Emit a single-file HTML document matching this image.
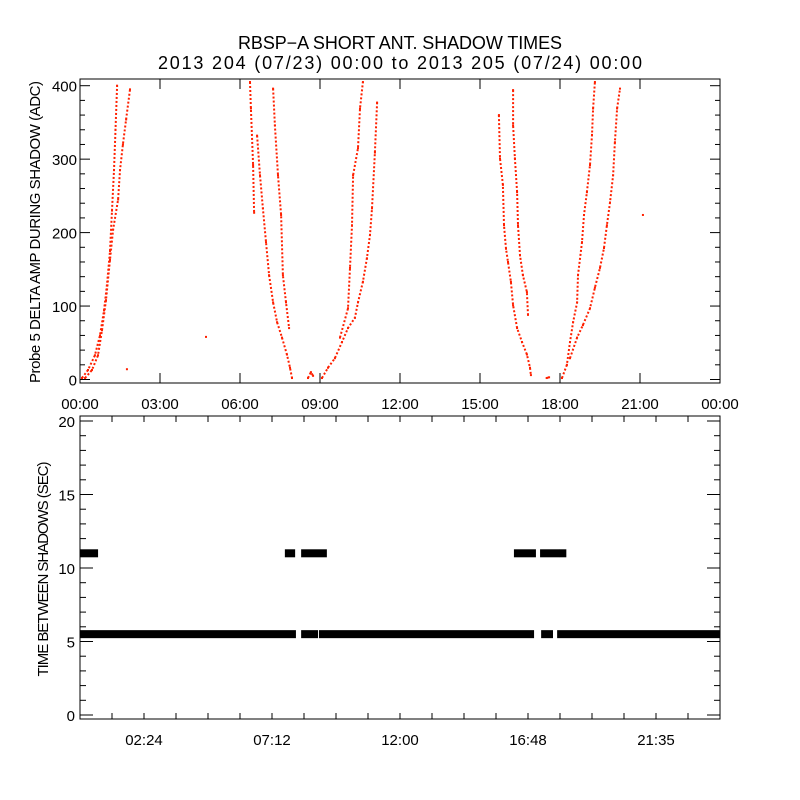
<!DOCTYPE html>
<html><head><meta charset="utf-8">
<style>
html,body{margin:0;padding:0;background:#fff;}
svg{display:block;font-family:"Liberation Sans",sans-serif;}
text{fill:#000;}
</style></head>
<body>
<svg id="chart" width="800" height="800" viewBox="0 0 800 800" xmlns="http://www.w3.org/2000/svg">
<rect x="0" y="0" width="800" height="800" fill="#fff"/>
<text x="400" y="49" font-size="18" text-anchor="middle" textLength="324" lengthAdjust="spacing">RBSP−A SHORT ANT. SHADOW TIMES</text>
<text x="400" y="69" font-size="18" text-anchor="middle" textLength="484" lengthAdjust="spacing">2013 204 (07/23) 00:00 to 2013 205 (07/24) 00:00</text>
<g id="topPanel"></g>
<g id="botPanel"></g>
</svg>
<script>
// ---- Top panel data: hours, ADC values per trace ----
const traceAHours=[0.075,0.3,0.56,0.75,0.9,1.01,1.125,1.2,1.275,1.33,1.39];
const traceAVals=[2,13,33,60,94,128,175,230,285,340,400];
const traceBHours=[0.19,0.45,0.675,0.825,0.975,1.125,1.24,1.43,1.5,1.61,1.73,1.875];
const traceBVals=[2,13,33,67,108,163,204,245,285,320,354,395];
const traceCHours=[6.375,6.41,6.49,6.53];
const traceCVals=[405,369,292,227];
const traceDHours=[6.64,6.75,6.86,6.975,7.09,7.24,7.39,7.575,7.76,7.875,7.95];
const traceDVals=[332,278,233,187,142,105,78,57,34,16,2];
const traceEHours=[7.24,7.31,7.425,7.54,7.61,7.725,7.84];
const traceEVals=[396,346,278,224,142,105,70];
const traceS1Hours=[8.55,8.66,8.74];
const traceS1Vals=[2,10,5];
const traceFHours=[9.075,9.3,9.56,9.825,10.05,10.31,10.425,10.61,10.76,10.875,10.95,11.06,11.14];
const traceFVals=[2,16,29,51,70,84,105,133,165,197,233,309,377];
const traceGHours=[9.75,10.05,10.125,10.2,10.24,10.425,10.5,10.61];
const traceGVals=[57,97,152,210,278,315,369,405];
const traceHHours=[15.71,15.75,15.86,15.9,15.975,16.05,16.16,16.24,16.39,16.575,16.76,16.875,16.91];
const traceHVals=[360,301,265,210,178,160,133,101,70,51,34,16,6];
const traceIHours=[16.24,16.24,16.31,16.39,16.425,16.5,16.61,16.76,16.8];
const traceIVals=[394,346,301,255,210,169,142,119,88];
const traceS2Hours=[17.5,17.59];
const traceS2Vals=[2,3];
const traceJHours=[18.075,18.26,18.375,18.49,18.64,18.675,18.825,18.9,19.01,19.125,19.2,19.24,19.31];
const traceJVals=[2,20,51,78,105,142,187,224,255,292,333,369,405];
const traceKHours=[18.375,18.64,18.86,19.125,19.31,19.5,19.65,19.76,19.875,19.99,20.06,20.14,20.25];
const traceKVals=[29,57,74,97,125,152,179,210,241,278,323,369,396];
const outlierHours=[21.11,4.725,1.76];
const outlierVals=[224,58,14];
const topXTickLabels=["00:00","03:00","06:00","09:00","12:00","15:00","18:00","21:00","00:00"];
const topYTickLabels=["0","100","200","300","400"];
// ---- Bottom panel data ----
const band55Start=[0,8.33,9.0,17.33,17.93];
const band55End=[8.06,8.89,16.99,17.7,24];
const band55Value=[5.5,5.5,5.5,5.5,5.5];
const band11Start=[0,7.72,8.33,16.31,17.29,18.0];
const band11End=[0.64,8.03,9.22,17.06,17.93,18.2];
const band11Value=[11,11,11,11,11,11];
const botXTickLabels=["02:24","07:12","12:00","16:48","21:35"];
const botXTickHours=[2.4,7.2,12,16.8,21.6];
const botYTickLabels=["0","5","10","15","20"];

const NS="http://www.w3.org/2000/svg";
function mk(tag,attrs,parent){const e=document.createElementNS(NS,tag);for(const k in attrs)e.setAttribute(k,attrs[k]);parent.appendChild(e);return e;}
const L=80,R=720;
const xs=h=>L+(h/24)*(R-L);
const tT=79,tB=383;
const yTop=v=>379.5-v*0.7345;
const bT=416,bB=719;
const yBot=v=>715-v*14.7;

const topG=document.getElementById('topPanel');
const botG=document.getElementById('botPanel');

let f=mk('rect',{x:L,y:tT,width:R-L,height:tB-tT,fill:'none',stroke:'#000','stroke-width':1},topG);


for(let i=0;i<topXTickLabels.length;i++){
  const x=xs(i*3);
  mk('line',{x1:x,y1:tB,x2:x,y2:tB-10,stroke:'#000'},topG);
  mk('line',{x1:x,y1:tT,x2:x,y2:tT+10,stroke:'#000'},topG);
  const t=mk('text',{x:x,y:tB+26,'font-size':15,'text-anchor':'middle'},topG);
  t.textContent=topXTickLabels[i];
  
  
}
for(let v=0;v<=400;v+=20){
  const y=yTop(v),len=(v%100===0)?10:5;
  mk('line',{x1:L,y1:y,x2:L+len,y2:y,stroke:'#000'},topG);
  mk('line',{x1:R,y1:y,x2:R-len,y2:y,stroke:'#000'},topG);
}
for(let i=0;i<topYTickLabels.length;i++){
  const t=mk('text',{x:L-3,y:yTop(i*100)+6,'font-size':15,'text-anchor':'end'},topG);
  t.textContent=topYTickLabels[i];
  
  
}
let yl=mk('text',{x:0,y:0,'font-size':15,'text-anchor':'middle',textLength:302,lengthAdjust:'spacing',transform:'translate(40,232) rotate(-90)'},topG);
yl.textContent='Probe 5 DELTA AMP DURING SHADOW (ADC)';



const traces=[[traceAHours,traceAVals],[traceBHours,traceBVals],[traceCHours,traceCVals],[traceDHours,traceDVals],[traceEHours,traceEVals],[traceS1Hours,traceS1Vals],[traceFHours,traceFVals],[traceGHours,traceGVals],[traceHHours,traceHVals],[traceIHours,traceIVals],[traceS2Hours,traceS2Vals],[traceJHours,traceJVals],[traceKHours,traceKVals]];
traces.forEach((tr,ti)=>{
  const pts=tr[0].map((h,i)=>xs(h).toFixed(1)+','+yTop(tr[1][i]).toFixed(1)).join(' ');
  const p=mk('polyline',{points:pts,fill:'none',stroke:'#ff2000','stroke-width':2,'stroke-dasharray':'2 2'},topG);
  
  
  tr[0].forEach((h,i)=>{
    const d=mk('rect',{x:xs(h)-1,y:yTop(tr[1][i])-1,width:2,height:2,fill:'#ff2000'},topG);
    
    
  });
});
outlierHours.forEach((h,i)=>{
  const d=mk('rect',{x:xs(h)-1,y:yTop(outlierVals[i])-1,width:2,height:2,fill:'#ff2000'},topG);
  
  
});

f=mk('rect',{x:L,y:bT,width:R-L,height:bB-bT,fill:'none',stroke:'#000','stroke-width':1},botG);


for(let h=0;h<=24.001;h+=1.2){
  const x=xs(h);
  mk('line',{x1:x,y1:bB,x2:x,y2:bB-6,stroke:'#000'},botG);
  mk('line',{x1:x,y1:bT,x2:x,y2:bT+6,stroke:'#000'},botG);
}
for(let i=0;i<botXTickLabels.length;i++){
  const t=mk('text',{x:xs(botXTickHours[i]),y:bB+26,'font-size':15,'text-anchor':'middle'},botG);
  t.textContent=botXTickLabels[i];
  
  
}
for(let v=0;v<=20;v++){
  const y=yBot(v),len=(v%5===0)?13:6;
  mk('line',{x1:L,y1:y,x2:L+len,y2:y,stroke:'#000'},botG);
  mk('line',{x1:R,y1:y,x2:R-len,y2:y,stroke:'#000'},botG);
}
for(let i=0;i<botYTickLabels.length;i++){
  const t=mk('text',{x:L-5,y:yBot(i*5)+6,'font-size':15,'text-anchor':'end'},botG);
  t.textContent=botYTickLabels[i];
  
  
}
yl=mk('text',{x:0,y:0,'font-size':15,'text-anchor':'middle',textLength:215,lengthAdjust:'spacing',transform:'translate(48,569) rotate(-90)'},botG);
yl.textContent='TIME BETWEEN SHADOWS (SEC)';



function band(s,e,v,name){
  const x1=Math.max(xs(s)-1,L),x2=Math.min(xs(e)+1,R),y=yBot(v);
  const r=mk('rect',{x:x1,y:y-4,width:Math.max(x2-x1,5),height:8,fill:'#000'},botG);
  
  
}
band55Start.forEach((s,i)=>band(s,band55End[i],band55Value[i],'interval-band-5-5'));
band11Start.forEach((s,i)=>band(s,band11End[i],band11Value[i],'interval-band-11'));
</script>
</body></html>
